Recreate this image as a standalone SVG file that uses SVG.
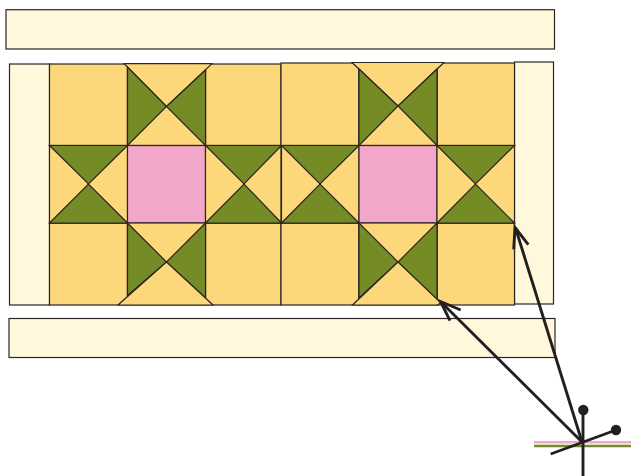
<svg xmlns="http://www.w3.org/2000/svg" width="631" height="476" viewBox="0 0 631 476">
<style>
.s{stroke:#2b2624;stroke-width:1.2;stroke-linejoin:miter}
.c{fill:#fff8dc}.y{fill:#fdd87b}.g{fill:#758b25}.p{fill:#f2a6c9}
.k{fill:none;stroke:#231f20;stroke-width:2.9;stroke-linecap:butt;stroke-linejoin:miter}
.d{fill:#231f20}
</style>
<g id="border-top"><rect class="s c" x="6" y="9.7" width="548.5" height="39.3"/></g>
<g id="border-left"><rect class="s c" x="9.5" y="64" width="40" height="241"/></g>
<g id="border-bottom"><rect class="s c" x="9" y="318.5" width="546" height="39"/></g>
<g id="border-right"><rect class="s c" x="514.5" y="62" width="39" height="242"/></g>
<g id="block-left">
<rect class="s y" x="49.5" y="64" width="78" height="81.5"/>
<rect class="s y" x="205.5" y="64" width="75.5" height="81.5"/>
<rect class="s y" x="49.5" y="223" width="78" height="82"/>
<rect class="s y" x="205.5" y="223" width="75.5" height="82"/>
<rect class="s y" x="127.5" y="64" width="78" height="81.5"/>
<polygon class="s y" points="124,63.7 212,63.7 166.5,106.5"/>
<polygon class="s g" points="127.5,67 127.5,145.5 166.5,106.5"/>
<polygon class="s g" points="205.5,70 205.5,145.5 166.5,106.5"/>
<rect class="s y" x="49.5" y="145.5" width="78" height="77.5"/>
<polygon class="s g" points="49.5,145.5 127.5,145.5 88.5,184"/>
<polygon class="s g" points="49.5,223 127.5,223 88.5,184"/>
<rect class="s p" x="127.5" y="145.5" width="78" height="77.5"/>
<rect class="s y" x="205.5" y="145.5" width="75.5" height="77.5"/>
<polygon class="s g" points="205.5,145.5 281.5,145.5 244,184"/>
<polygon class="s g" points="205.5,223 281.5,223 244,184"/>
<rect class="s y" x="127.5" y="223" width="78" height="82"/>
<polygon class="s g" points="127.5,223 127.5,295.5 166.5,262"/>
<polygon class="s g" points="205.5,223 205.5,298 166.5,262"/>
<polygon class="s y" points="166.5,262 118,305 213,305"/>
</g>
<g id="block-right">
<rect class="s y" x="281" y="63" width="78" height="82.5"/>
<rect class="s y" x="437" y="63" width="77.5" height="82.5"/>
<rect class="s y" x="281" y="223" width="78" height="82"/>
<rect class="s y" x="437" y="223" width="77.5" height="82"/>
<rect class="s y" x="359" y="63" width="78" height="82.5"/>
<polygon class="s y" points="352,62.5 444,62.5 398,106"/>
<polygon class="s g" points="359,69 359,145.5 398,106"/>
<polygon class="s g" points="437,69 437,145.5 398,106"/>
<rect class="s y" x="281.5" y="145.5" width="77.5" height="77.5"/>
<polygon class="s g" points="281.5,145.5 359,145.5 320,184"/>
<polygon class="s g" points="281.5,223 359,223 320,184"/>
<rect class="s p" x="359" y="145.5" width="78" height="77.5"/>
<rect class="s y" x="437" y="145.5" width="77.5" height="77.5"/>
<polygon class="s g" points="437,145.5 514.5,145.5 475.5,184"/>
<polygon class="s g" points="437,223 514.5,223 475.5,184"/>
<rect class="s y" x="359" y="223" width="78" height="82"/>
<polygon class="s g" points="359,223 359,298 398,262"/>
<polygon class="s g" points="437,223 437,299.5 398,262"/>
<polygon class="s y" points="398,262 352.5,305 437,305 441,303"/>
</g>
<g id="grain-guide">
<line x1="534" y1="442.3" x2="631" y2="442.3" stroke="#f2a6c9" stroke-width="2.4"/>
<line x1="534" y1="446" x2="631" y2="446" stroke="#758b25" stroke-width="2.4"/>
<line class="k" x1="583" y1="410" x2="583" y2="476"/>
<line class="k" x1="550.7" y1="454" x2="616" y2="430"/>
<circle class="d" cx="583.3" cy="410" r="5.2"/>
<circle class="d" cx="616" cy="430" r="5.2"/>
</g>
<g id="connectors">
<line class="k" x1="582" y1="442" x2="515.5" y2="228"/>
<polyline class="k" points="513.7,249.3 515,227.5 528.3,244.7"/>
<line class="k" x1="582" y1="442" x2="441" y2="302"/>
<polyline class="k" points="450,320.7 440.5,301.5 460.7,310"/>
</g>
</svg>
